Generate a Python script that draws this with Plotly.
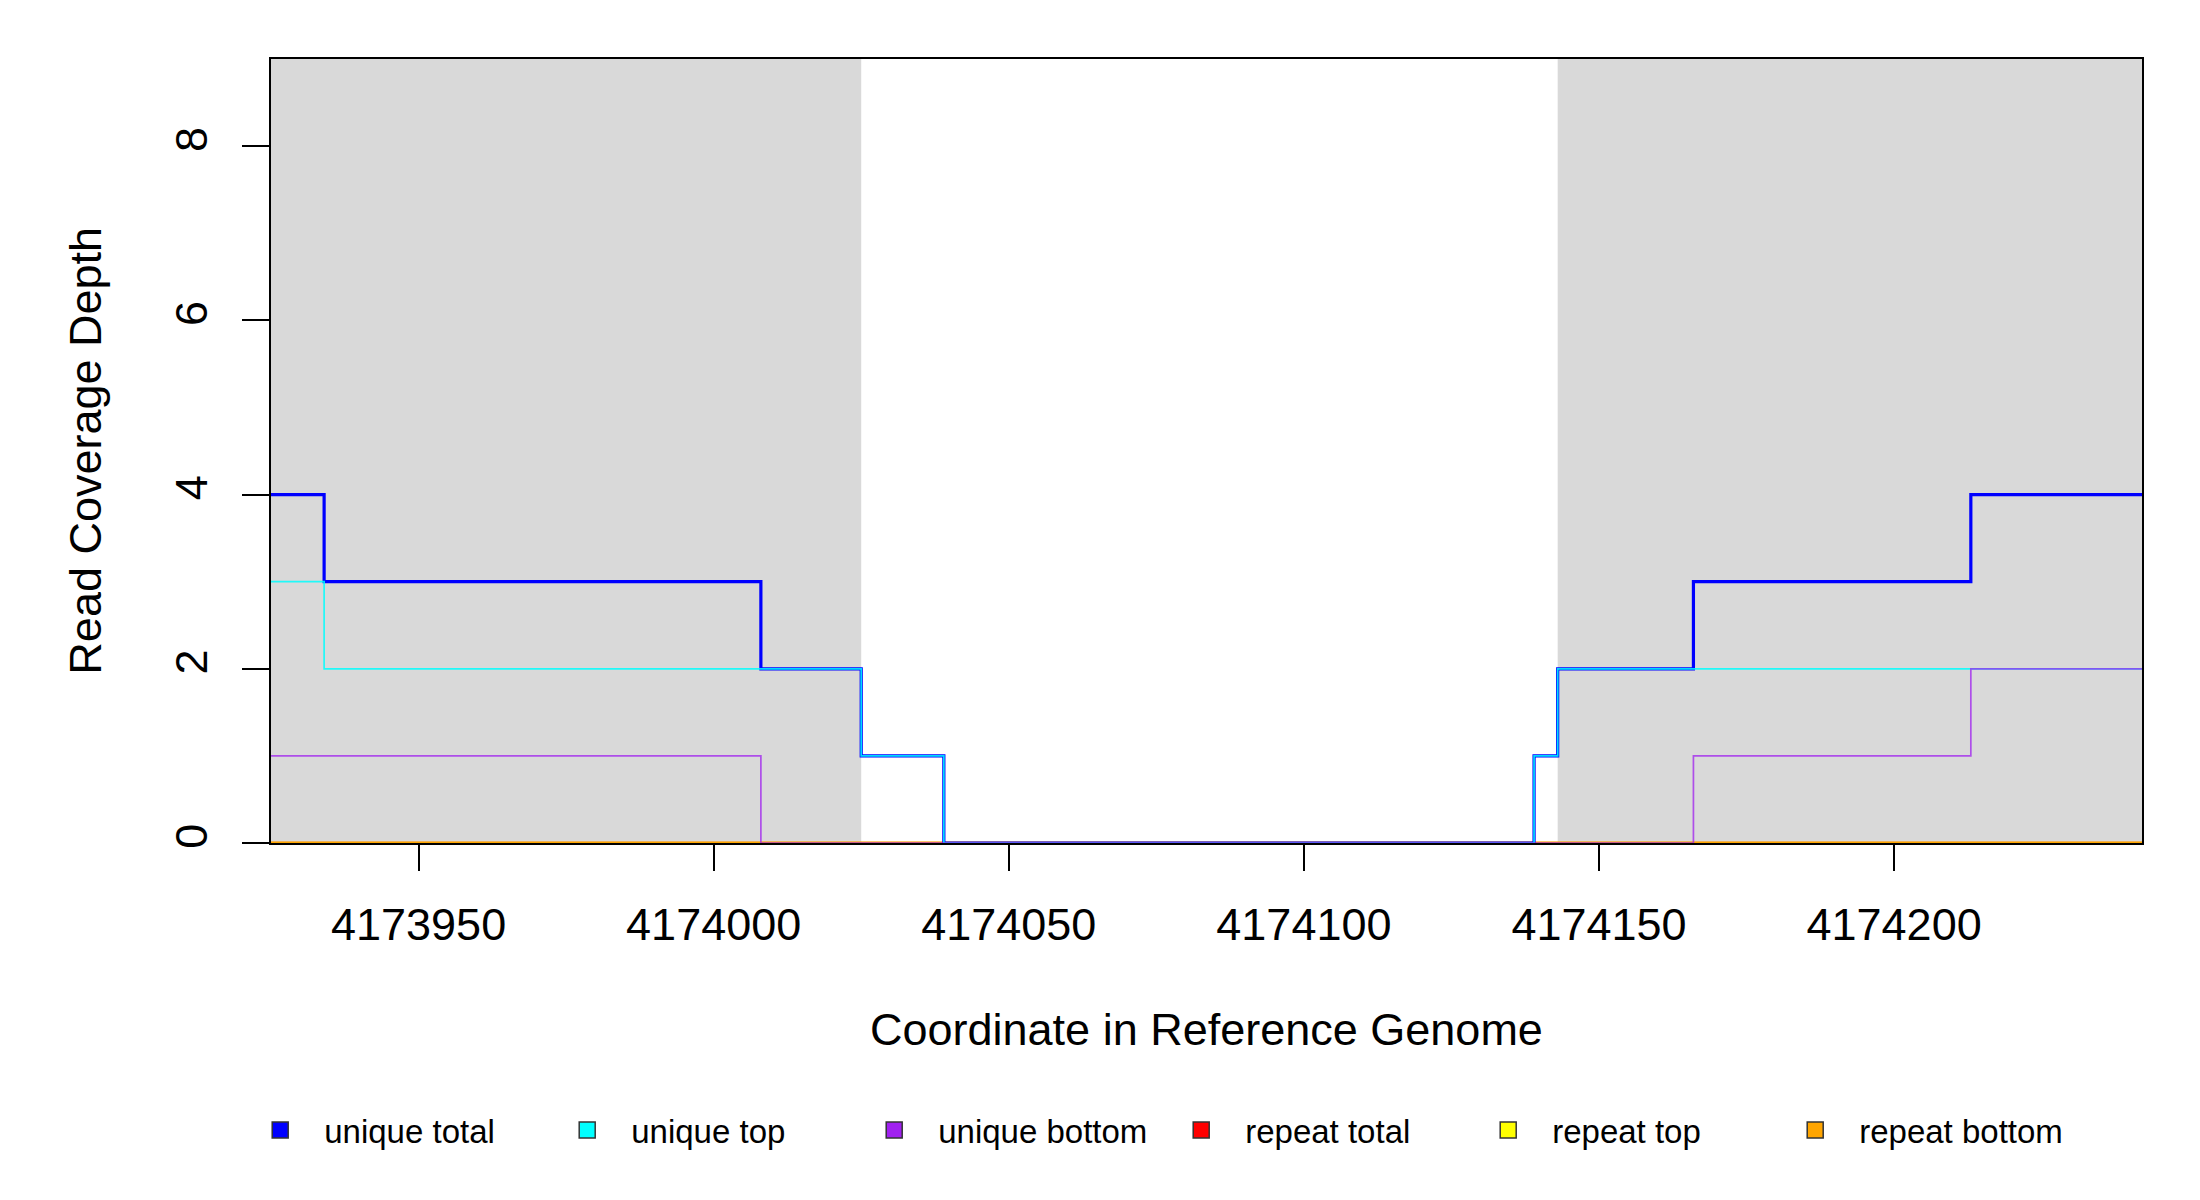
import plotly.graph_objects as go

# read coverage steps (change points, last point closes the range)
coord_min = 4173925
coord_max = 4174242

unique_total_x = [4173925, 4173934, 4174008, 4174025, 4174039, 4174139, 4174143, 4174166, 4174213, 4174242]
unique_total_y = [4, 3, 2, 1, 0, 1, 2, 3, 4, 4]

unique_top_x = [4173925, 4173934, 4174025, 4174039, 4174139, 4174143, 4174242]
unique_top_y = [3, 2, 1, 0, 1, 2, 2]

unique_bottom_x = [4173925, 4174008, 4174166, 4174213, 4174242]
unique_bottom_y = [1, 0, 1, 2, 2]

repeat_x = [4173925, 4174242]
repeat_total_y = [0, 0]
repeat_top_y = [0, 0]
repeat_bottom_y = [0, 0]

# shaded (exon) regions
exon_starts = [4173925, 4174143]
exon_ends = [4174025, 4174242]

x_ticks = [4173950, 4174000, 4174050, 4174100, 4174150, 4174200]
y_ticks = [0, 2, 4, 6, 8]

legend_names = ["unique total", "unique top", "unique bottom",
                "repeat total", "repeat top", "repeat bottom"]
legend_colors = ["#0000FF", "#00FFFF", "#A020F0", "#FF0000", "#FFFF00", "#FFA500"]

FONT = "Liberation Sans, Arial, sans-serif"

fig = go.Figure()

for s, e in zip(exon_starts, exon_ends):
    fig.add_shape(type="rect", x0=s, x1=e, y0=0, y1=9, xref="x", yref="y",
                  fillcolor="#D9D9D9", line_width=0, layer="below")

# repeat lines first, unique on top
for y, col in [(repeat_total_y, "#FF0000"), (repeat_top_y, "#FFFF00"),
               (repeat_bottom_y, "#FFA500")]:
    fig.add_trace(go.Scatter(x=repeat_x, y=y, mode="lines", line_shape="hv",
                             line=dict(color=col, width=2.6), showlegend=False,
                             hoverinfo="skip"))

fig.add_trace(go.Scatter(x=unique_total_x, y=unique_total_y, mode="lines",
                         line_shape="hv", line=dict(color="#0000FF", width=3.2),
                         showlegend=False))
fig.add_trace(go.Scatter(x=unique_top_x, y=unique_top_y, mode="lines",
                         line_shape="hv", line=dict(color="#00FFFF", width=1.7),
                         opacity=0.85, showlegend=False))
fig.add_trace(go.Scatter(x=unique_bottom_x, y=unique_bottom_y, mode="lines",
                         line_shape="hv", line=dict(color="#A020F0", width=1.7),
                         opacity=0.75, showlegend=False))

# legend entries (filled boxes)
for name, col in zip(legend_names, legend_colors):
    fig.add_trace(go.Scatter(x=[None], y=[None], mode="markers", name=name,
                             marker=dict(symbol="square", size=16, color=col,
                                         line=dict(color="#333333", width=1.5))))

fig.update_layout(
    width=2184, height=1184,
    margin=dict(l=263, r=50, t=51, b=349),
    plot_bgcolor="white", paper_bgcolor="white",
    font=dict(family=FONT, color="black", size=45),
    showlegend=True,
    legend=dict(orientation="h", x=-0.0186, xanchor="left", y=-0.366,
                yanchor="middle", font=dict(size=33), entrywidth=214,
                entrywidthmode="pixels", itemwidth=78, traceorder="normal"),
    annotations=[
        dict(text="Coordinate in Reference Genome", xref="paper", yref="paper",
             x=0.5, y=-0.2385, xanchor="center", yanchor="middle",
             showarrow=False, font=dict(size=45)),
        dict(text="Read Coverage Depth", xref="paper", yref="paper",
             x=-0.0996, y=0.5, xanchor="center", yanchor="middle",
             textangle=-90, showarrow=False, font=dict(size=45)),
    ],
)

fig.update_xaxes(range=[coord_min, coord_max], tickvals=x_ticks,
                 ticktext=[str(v) for v in x_ticks], ticks="outside",
                 ticklen=26, tickwidth=1.5, tickcolor="black",
                 ticklabelstandoff=15, layer="below traces",
                 showline=True, linecolor="black", linewidth=1.5, mirror=True,
                 showgrid=False, zeroline=False, tickfont=dict(size=45))
fig.update_yaxes(range=[0, 9], tickvals=y_ticks, ticks="outside",
                 ticklen=27, tickwidth=1.5, tickcolor="black", tickangle=-90,
                 ticklabelstandoff=17, layer="below traces",
                 showline=True, linecolor="black", linewidth=1.5, mirror=True,
                 showgrid=False, zeroline=False, tickfont=dict(size=45))

fig.write_html("out.html")
